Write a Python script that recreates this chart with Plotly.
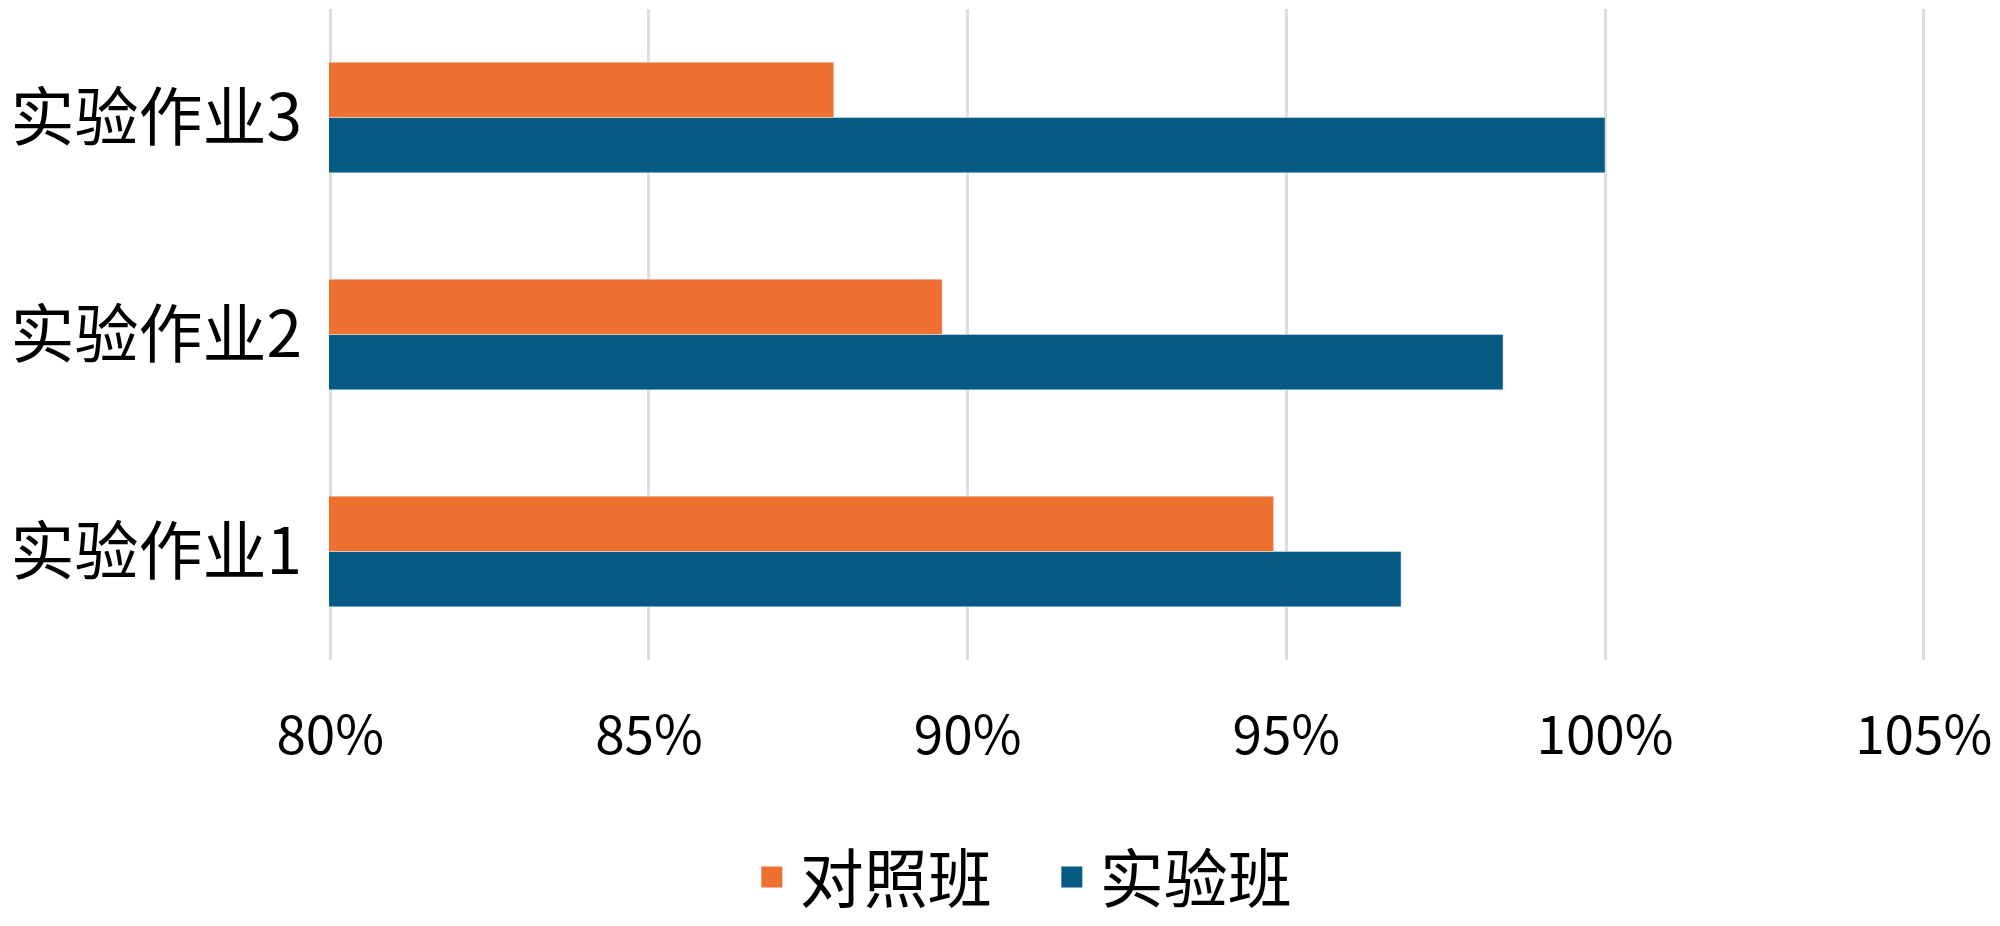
import plotly.graph_objects as go

# data
tasks = ["实验作业1", "实验作业2", "实验作业3"]
control = [0.948, 0.896, 0.879]     # 对照班
experiment = [0.968, 0.984, 1.000]  # 实验班
x_ticks = [0.80, 0.85, 0.90, 0.95, 1.00, 1.05]
x_labels = ["80%", "85%", "90%", "95%", "100%", "105%"]

ORANGE = "#EF7131"
BLUE = "#045A82"
FONT = "Noto Sans CJK SC"

fig = go.Figure()

# blue first so the orange bar sits on top in each group
fig.add_trace(go.Bar(
    y=tasks, x=experiment, orientation="h",
    marker=dict(color=BLUE), name="实验班", showlegend=False
))
fig.add_trace(go.Bar(
    y=tasks, x=control, orientation="h",
    marker=dict(color=ORANGE), name="对照班", showlegend=False
))

# legend-only entries (bigger squares than the bar legend icon)
for nm, col in [("对照班", ORANGE), ("实验班", BLUE)]:
    fig.add_trace(go.Scatter(
        x=[None], y=[None], mode="markers", name=nm,
        marker=dict(symbol="square", size=16, color=col,
                    line=dict(color=col, width=5))
    ))

# page body has an 8px margin, so the figure is a bit smaller than the window
fig.update_layout(
    width=1992, height=918,
    barmode="group", bargap=0.49, bargroupgap=0,
    plot_bgcolor="white", paper_bgcolor="white",
    margin=dict(l=321, r=75, t=1, b=266),
    font=dict(family=FONT, color="black"),
    legend=dict(
        orientation="h", xref="container", yref="container",
        x=0.52, xanchor="center", y=0.0, yanchor="bottom",
        font=dict(size=64, family=FONT), itemwidth=46,
        entrywidth=239,
    ),
)

fig.update_xaxes(
    range=[0.7998, 1.0502], tickvals=x_ticks, ticktext=x_labels,
    showgrid=True, gridcolor="#DEDEDE", gridwidth=2.5,
    zeroline=False, showline=False, ticks="", automargin=False,
    tickfont=dict(size=53, family=FONT), ticklabelstandoff=40,
    ticklabeloverflow="allow",
)
fig.update_yaxes(
    categoryorder="array", categoryarray=tasks,
    showgrid=False, zeroline=False, showline=False, ticks="",
    automargin=False,
    tickfont=dict(size=64, family=FONT), ticklabelstandoff=26,
)

fig.write_html("out.html")
